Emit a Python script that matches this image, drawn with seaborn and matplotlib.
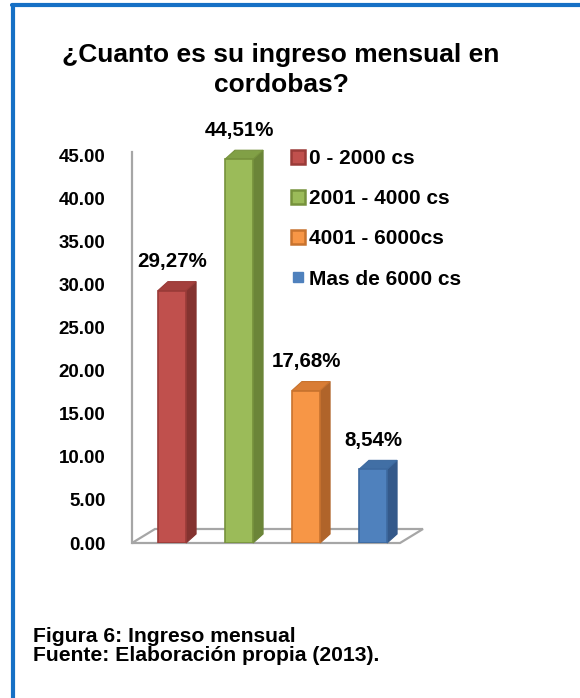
import matplotlib
matplotlib.use("Agg")
import matplotlib.pyplot as plt
import seaborn as sns
import pandas as pd
from matplotlib.patches import Polygon
from matplotlib.lines import Line2D

# ==========================================
# DATA
# ==========================================
categories = ["0 - 2000 cs", "2001 - 4000 cs", "4001 - 6000cs", "Mas de 6000 cs"]
values = [29.27, 44.51, 17.68, 8.54]
value_labels = ["29,27%", "44,51%", "17,68%", "8,54%"]
y_ticks = [0, 5, 10, 15, 20, 25, 30, 35, 40, 45]

front_colors = ["#c0504d", "#9bbb59", "#f79646", "#4f81bd"]
edge_colors = ["#9a3b38", "#76923c", "#c8732e", "#3d6aa0"]
side_colors = ["#843330", "#6b8538", "#b0642a", "#34598a"]
top_colors = ["#a4403d", "#81a046", "#d97d35", "#416fa5"]

df = pd.DataFrame({"rango": categories, "pct": values})

# ==========================================
# FIGURE
# ==========================================
sns.set_style("white")
plt.rcParams["font.family"] = ["Liberation Sans", "DejaVu Sans"]
plt.rcParams["font.weight"] = "bold"
plt.rcParams["text.color"] = "black"
plt.rcParams["ytick.color"] = "black"

W, H = 580, 698
fig = plt.figure(figsize=(W / 100, H / 100), dpi=100)

# axes placed in pixel terms of the reference
ax_left, ax_right, ax_bottom, ax_top = 132, 423, 543, 152
ax = fig.add_axes([ax_left / W, 1 - ax_bottom / H,
                   (ax_right - ax_left) / W, (ax_bottom - ax_top) / H])

sns.barplot(data=df, x="rango", y="pct", hue="rango", palette=front_colors,
            saturation=1, width=0.42, legend=False, ax=ax, zorder=3)

px_x = 67.0                 # pixels per category step
px_y = (543 - 155) / 45.0   # pixels per unit on y
xmin = -40 / px_x
xmax = xmin + (ax_right - ax_left) / px_x
ax.set_xlim(xmin, xmax)
ax.set_ylim(0, (ax_bottom - ax_top) / px_y)

# floor (3D base)
fdx, fdy = 23 / px_x, 14 / px_y
floor_right = xmin + 268 / px_x
floor = Polygon([(xmin, 0), (floor_right, 0), (floor_right + fdx, fdy), (xmin + fdx, fdy)],
                closed=True, facecolor="white", edgecolor="#a6a6a6", lw=1.6,
                zorder=1, clip_on=False)
ax.add_patch(floor)

# 3D side and top faces for each bar
dx, dy = 10 / px_x, 9 / px_y
for i, bar in enumerate(ax.patches[:len(values)]):
    bar.set_edgecolor(edge_colors[i])
    bar.set_linewidth(1.2)
    x0 = bar.get_x()
    x1 = x0 + bar.get_width()
    h = bar.get_height()
    side = Polygon([(x1, 0), (x1 + dx, dy), (x1 + dx, h + dy), (x1, h)],
                   facecolor=side_colors[i], edgecolor=side_colors[i], lw=0.8,
                   zorder=2.5, clip_on=False)
    top = Polygon([(x0, h), (x0 + dx, h + dy), (x1 + dx, h + dy), (x1, h)],
                  facecolor=top_colors[i], edgecolor=edge_colors[i], lw=0.8,
                  zorder=2.5, clip_on=False)
    ax.add_patch(side)
    ax.add_patch(top)
    ax.annotate(value_labels[i], (x0 + bar.get_width() / 2, h), xytext=(0, 29),
                textcoords="offset pixels", ha="center", va="center",
                fontsize=14.8, fontweight="bold", annotation_clip=False)

# axes styling
ax.set_yticks(y_ticks)
ax.set_yticklabels([f"{t:.2f}" for t in y_ticks], fontsize=13.5, fontweight="bold")
ax.tick_params(axis="y", length=0, pad=19, labelcolor="black")
ax.set_xticks([])
ax.set_xlabel("")
ax.set_ylabel("")
for s in ["top", "right", "bottom"]:
    ax.spines[s].set_visible(False)
ax.spines["left"].set_color("#a6a6a6")
ax.spines["left"].set_linewidth(1.6)
ax.grid(False)

# legend
handles = []
for i, c in enumerate(categories):
    if i < 3:
        handles.append(Line2D([], [], marker="s", linestyle="none", markersize=10,
                              markerfacecolor=front_colors[i], markeredgecolor=edge_colors[i],
                              markeredgewidth=1.8))
    else:
        handles.append(Line2D([], [], marker="s", linestyle="none", markersize=7.5,
                              markerfacecolor=front_colors[i], markeredgecolor=front_colors[i]))
fig.legend(handles, categories, loc="upper left", bbox_to_anchor=(290 / W, 1 - 149 / H),
           frameon=False, prop={"size": 15, "weight": "bold"}, handlelength=0.72,
           handletextpad=0.2, labelspacing=1.02, borderpad=0, borderaxespad=0)

# title and caption
fig.text(281 / W, 1 - 70 / H, "¿Cuanto es su ingreso mensual en\ncordobas?",
         ha="center", va="center", fontsize=19, fontweight="bold", linespacing=1.32)
fig.text(33 / W, 1 - 646 / H, "Figura 6: Ingreso mensual\nFuente: Elaboración propia (2013).",
         ha="left", va="center", fontsize=15.2, fontweight="bold", linespacing=1.0)

# blue frame
fig.add_artist(Line2D([12 / W, 1], [1 - 5 / H, 1 - 5 / H], color="#1670c5", lw=3,
                      transform=fig.transFigure))
fig.add_artist(Line2D([13 / W, 13 / W], [0, 1 - 5 / H], color="#1670c5", lw=3,
                      transform=fig.transFigure))

fig.savefig("out.png", dpi=100)
